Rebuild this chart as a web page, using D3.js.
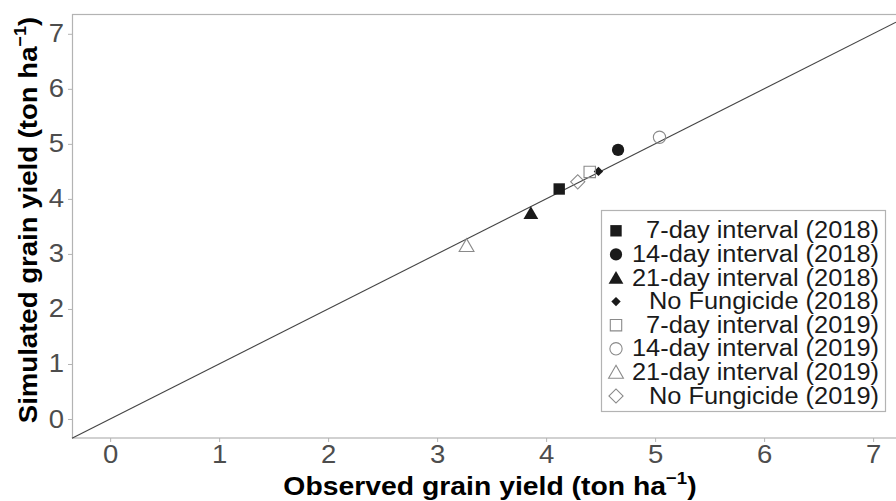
<!DOCTYPE html>
<html>
<head>
<meta charset="utf-8">
<script src="https://cdn.jsdelivr.net/npm/d3@7"></script>
<style>
  body { margin: 0; background: #fff; }
  text { font-family: "Liberation Sans", Arial, sans-serif; }
</style>
</head>
<body>
<div id="chart"></div>
<script>
// treatments, observed vs simulated yield (ton/ha)
const labels = [
  '7-day interval (2018)', '14-day interval (2018)', '21-day interval (2018)', 'No Fungicide (2018)',
  '7-day interval (2019)', '14-day interval (2019)', '21-day interval (2019)', 'No Fungicide (2019)'
];
const observed = [4.12, 4.66, 3.86, 4.48, 4.40, 5.04, 3.27, 4.29];
const simulated = [4.18, 4.89, 3.74, 4.50, 4.49, 5.12, 3.15, 4.31];
const shapes = ['square', 'circle', 'triangle', 'diamondSmall', 'square', 'circle', 'triangle', 'diamond'];
const filled = [true, true, true, true, false, false, false, false];
const ticks = [0, 1, 2, 3, 4, 5, 6, 7];

const width = 896;
const height = 501;

const svg = d3.select('#chart')
  .append('svg')
  .attr('width', width)
  .attr('height', height);

const x = d3.scaleLinear().domain([-0.35, 7.21]).range([72, 896]);
const y = d3.scaleLinear().domain([-0.345, 7.36]).range([438, 14]);

// the original's lettering is a bit wider than Arial, stretch it
function widen(sel, k) {
  sel.each(function () {
    const w = this.getComputedTextLength();
    d3.select(this).attr('textLength', w * k).attr('lengthAdjust', 'spacingAndGlyphs');
  });
}

// panel border (right side is cut off in the original)
svg.append('rect')
  .attr('x', 72.5).attr('y', 14.5)
  .attr('width', 840).attr('height', 423.5)
  .attr('fill', 'none')
  .attr('stroke', '#b3b3b3')
  .attr('stroke-width', 1.2);

// 1:1 line
svg.append('line')
  .attr('x1', x(-0.35)).attr('y1', y(-0.35))
  .attr('x2', x(7.21)).attr('y2', y(7.21))
  .attr('stroke', '#444')
  .attr('stroke-width', 1.1);

function symbolPath(shape) {
  if (shape === 'square') return d3.symbol(d3.symbolSquare, 130)();
  if (shape === 'circle') return d3.symbol(d3.symbolCircle, 118)();
  if (shape === 'triangle') return d3.symbol(d3.symbolTriangle, 95)();
  if (shape === 'diamondSmall') return d3.symbol(d3.symbolSquare, 44)();
  return d3.symbol(d3.symbolSquare, 100)();
}

function drawSymbol(g, i, cx, cy) {
  const isDiamond = shapes[i].startsWith('diamond');
  const dy = shapes[i] === 'triangle' ? 1.5 : 0;
  g.append('path')
    .attr('d', symbolPath(shapes[i]))
    .attr('transform', `translate(${cx},${cy + dy})` + (isDiamond ? ' rotate(45)' : ''))
    .attr('fill', filled[i] ? '#1a1a1a' : 'none')
    .attr('stroke', filled[i] ? 'none' : '#8a8a8a')
    .attr('stroke-width', 1.1);
}

const pts = svg.append('g');
labels.forEach((d, i) => drawSymbol(pts, i, x(observed[i]), y(simulated[i])));

// axes
const xAxis = svg.append('g')
  .attr('transform', 'translate(0,438)')
  .call(d3.axisBottom(x).tickValues(ticks).tickSize(4).tickPadding(3));
const yAxis = svg.append('g')
  .attr('transform', 'translate(72,0)')
  .call(d3.axisLeft(y).tickValues(ticks).tickSize(4).tickPadding(4));

[xAxis, yAxis].forEach(a => {
  a.select('.domain').remove();
  a.selectAll('.tick line').attr('stroke', '#b3b3b3');
  a.selectAll('.tick text')
    .attr('fill', '#4d4d4d')
    .style('font-size', '25px')
    .style('font-family', '"Liberation Sans", Arial, sans-serif')
    .call(widen, 1.1);
});

// axis titles
const xt = svg.append('text')
  .attr('x', 490).attr('y', 495)
  .attr('text-anchor', 'middle')
  .style('font-size', '26px').style('font-weight', 'bold');
xt.append('tspan').text('Observed grain yield (ton ha');
xt.append('tspan').attr('dy', -11).style('font-size', '17px').text('\u22121');
xt.append('tspan').attr('dy', 11).text(')');
xt.call(widen, 1.09);

const yt = svg.append('text')
  .attr('transform', 'translate(37,220) rotate(-90)')
  .attr('text-anchor', 'middle')
  .style('font-size', '26px').style('font-weight', 'bold');
yt.append('tspan').text('Simulated grain yield (ton ha');
yt.append('tspan').attr('dy', -11).style('font-size', '17px').text('\u22121');
yt.append('tspan').attr('dy', 11).text(')');
yt.call(widen, 1.06);

// legend
const legend = svg.append('g');
legend.append('rect')
  .attr('x', 601.5).attr('y', 210.5)
  .attr('width', 284).attr('height', 201)
  .attr('fill', '#fff')
  .attr('stroke', '#b3b3b3')
  .attr('stroke-width', 1.2);

labels.forEach((d, i) => {
  const base = 238.4 + i * 23.6;
  drawSymbol(legend, i, 616, base - 7.6);
  legend.append('text')
    .attr('x', 879).attr('y', base)
    .attr('text-anchor', 'end')
    .attr('fill', '#1a1a1a')
    .style('font-size', '23.3px')
    .text(d)
    .call(widen, 1.09);
});
</script>
</body>
</html>
